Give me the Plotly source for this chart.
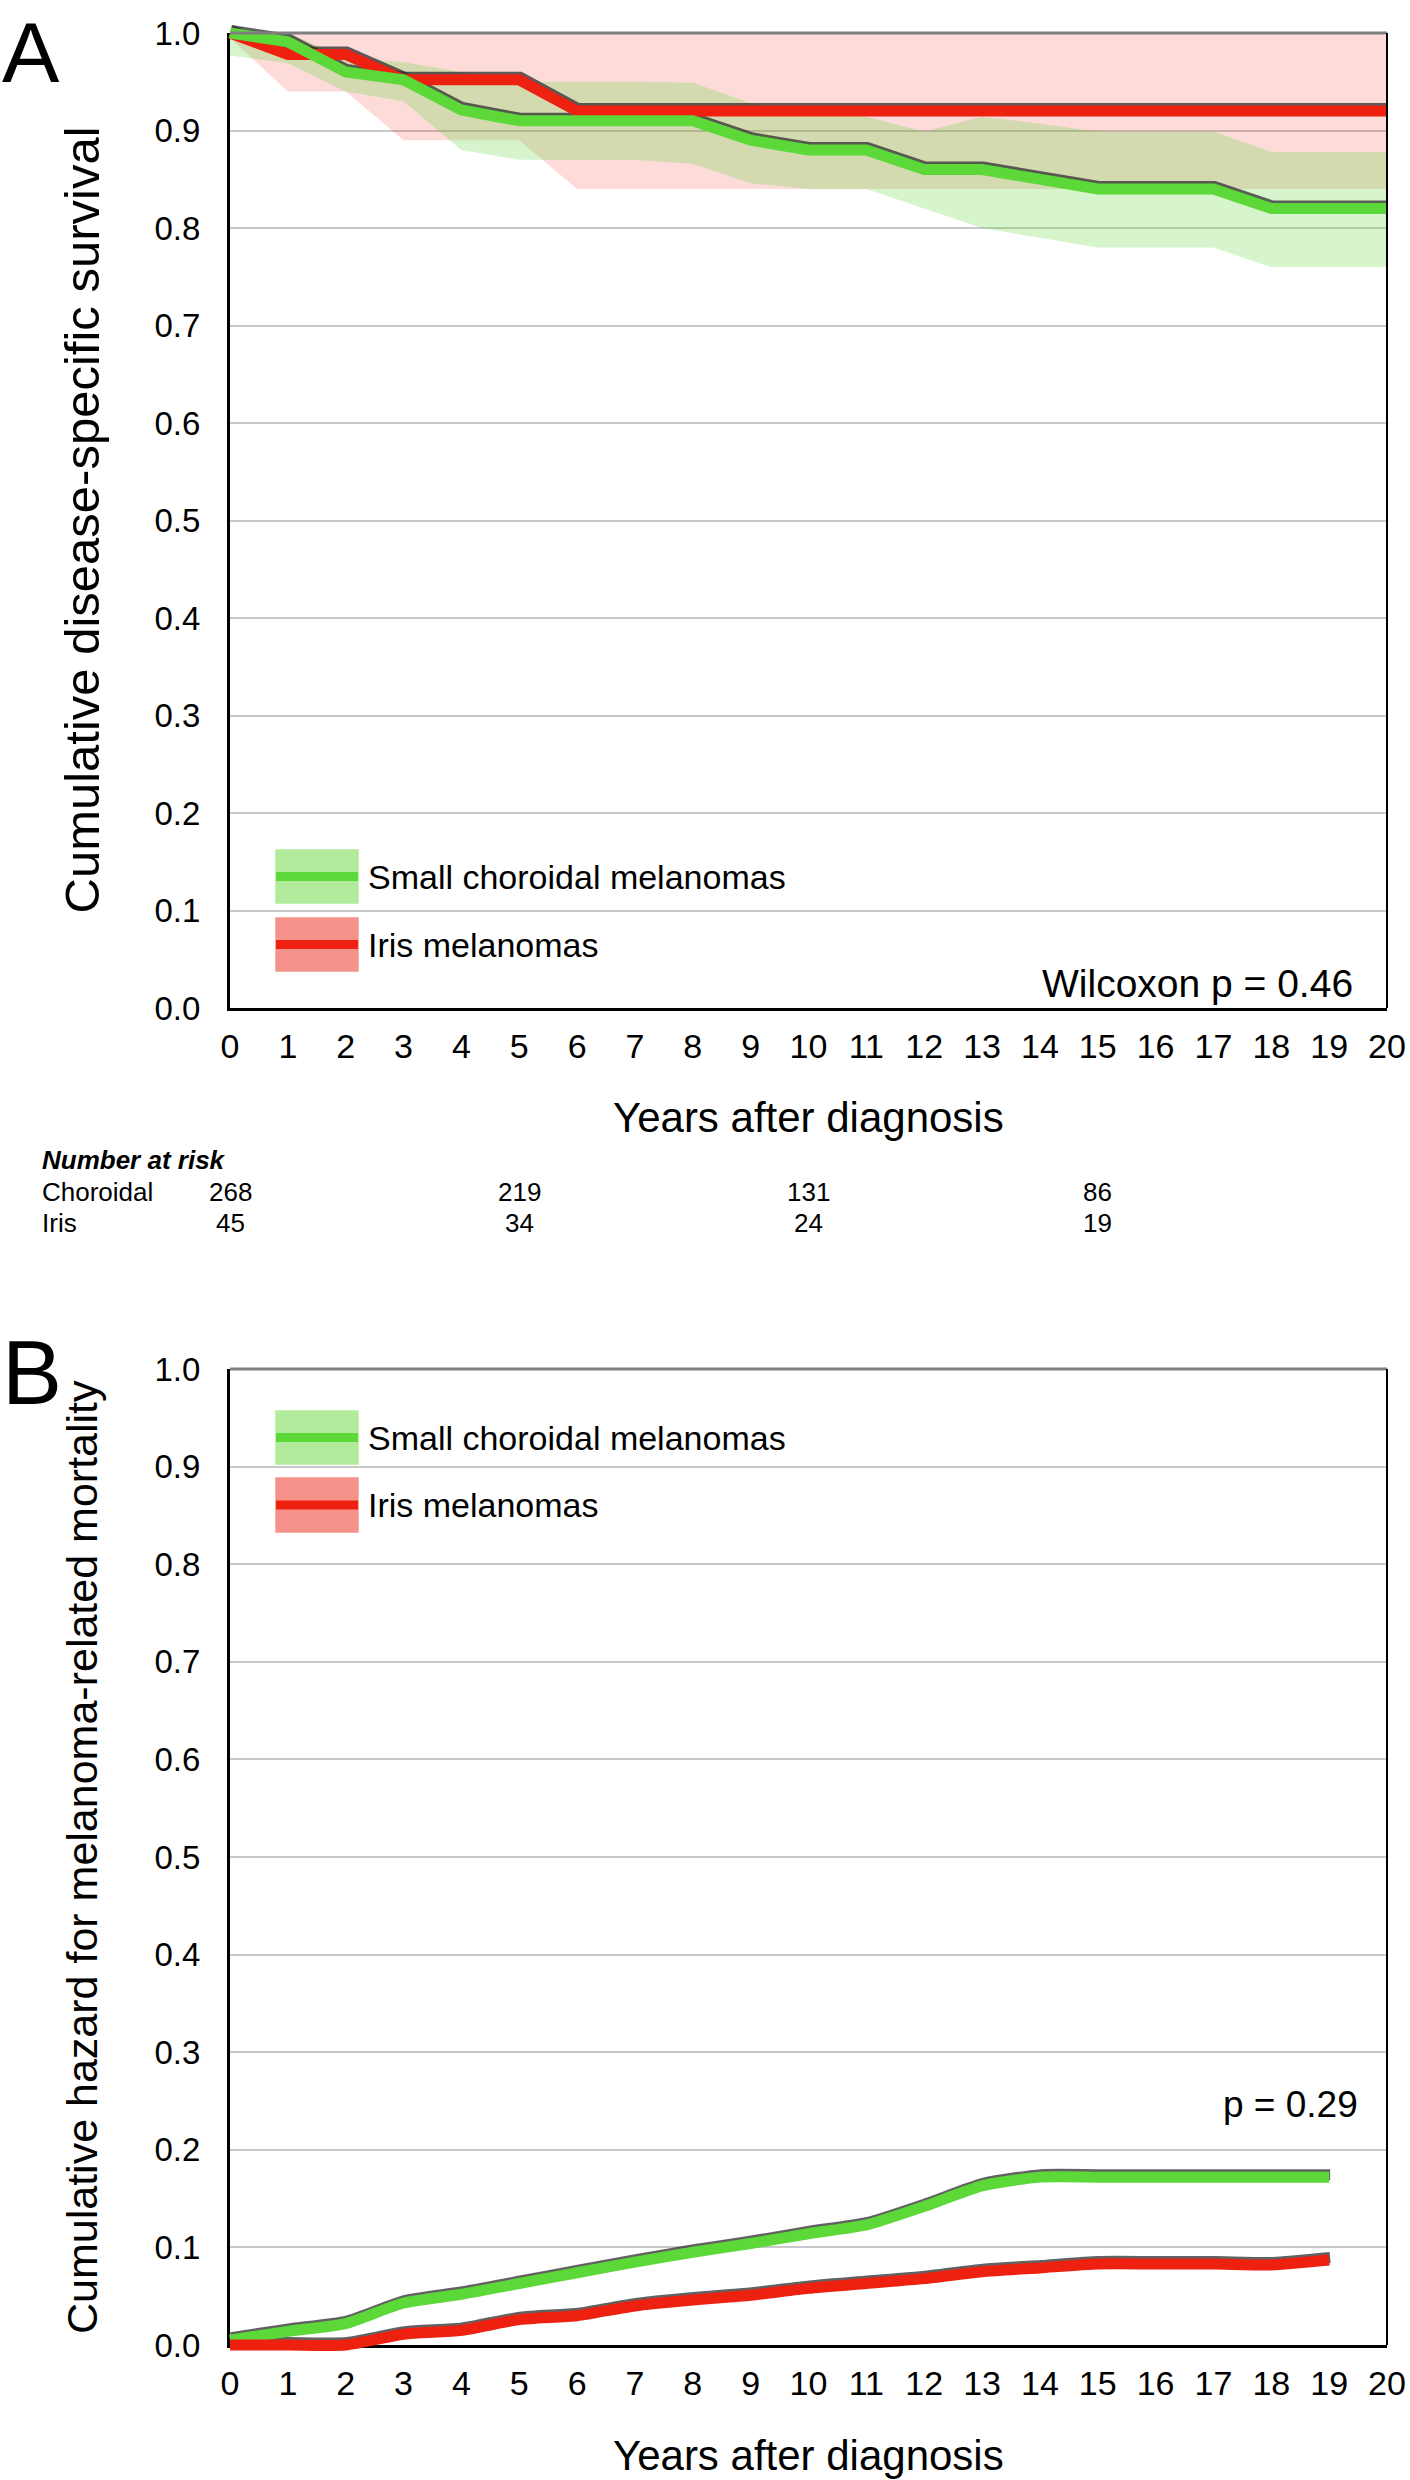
import plotly.graph_objects as go

# ---------------- data ----------------
years_a = [0, 1, 2, 3, 4, 5, 6, 7, 8, 9, 10, 11, 12, 13, 14, 15, 16, 17, 18, 19, 20]
choroidal_surv = [1.000, 0.991, 0.960, 0.952, 0.921, 0.910, 0.910, 0.910, 0.910, 0.890, 0.880,
                  0.880, 0.860, 0.860, 0.850, 0.840, 0.840, 0.840, 0.820, 0.820, 0.820]
choroidal_lo = [0.977, 0.969, 0.940, 0.930, 0.880, 0.870, 0.870, 0.870, 0.866, 0.846, 0.840,
                0.840, 0.820, 0.800, 0.790, 0.780, 0.780, 0.780, 0.760, 0.760, 0.760]
choroidal_hi = [1.000, 1.000, 0.975, 0.970, 0.960, 0.950, 0.950, 0.950, 0.949, 0.928, 0.921,
                0.914, 0.899, 0.914, 0.907, 0.899, 0.899, 0.899, 0.878, 0.878, 0.878]
iris_surv = [1.000, 0.978, 0.978, 0.952, 0.952, 0.952, 0.920, 0.920, 0.920, 0.920, 0.920,
             0.920, 0.920, 0.920, 0.920, 0.920, 0.920, 0.920, 0.920, 0.920, 0.920]
iris_lo = [0.995, 0.940, 0.940, 0.890, 0.890, 0.890, 0.840, 0.840, 0.840, 0.840, 0.840,
           0.840, 0.840, 0.840, 0.840, 0.840, 0.840, 0.840, 0.840, 0.840, 0.840]
iris_hi = [1.000, 1.000, 1.000, 1.000, 1.000, 1.000, 1.000, 1.000, 1.000, 1.000, 1.000,
           1.000, 1.000, 1.000, 1.000, 1.000, 1.000, 1.000, 1.000, 1.000, 1.000]

years_b = [0, 1, 2, 3, 4, 5, 6, 7, 8, 9, 10, 11, 12, 13, 14, 15, 16, 17, 18, 19]
choroidal_haz = [0.005, 0.014, 0.022, 0.043, 0.052, 0.063, 0.074, 0.085, 0.095, 0.104,
                 0.114, 0.123, 0.142, 0.163, 0.172, 0.172, 0.172, 0.172, 0.172, 0.172]
iris_haz = [0.000, 0.000, 0.000, 0.011, 0.015, 0.026, 0.030, 0.040, 0.046, 0.051,
            0.058, 0.063, 0.068, 0.075, 0.079, 0.083, 0.083, 0.083, 0.082, 0.087]

risk_years = [0, 5, 10, 15]
risk_choroidal = [268, 219, 131, 86]
risk_iris = [45, 34, 24, 19]

group_labels = ["Small choroidal melanomas", "Iris melanomas"]
risk_labels = ["Choroidal", "Iris"]
x_ticks = [0, 1, 2, 3, 4, 5, 6, 7, 8, 9, 10, 11, 12, 13, 14, 15, 16, 17, 18, 19, 20]
y_ticks = [0.0, 0.1, 0.2, 0.3, 0.4, 0.5, 0.6, 0.7, 0.8, 0.9, 1.0]
p_text_a = "Wilcoxon p = 0.46"
p_text_b = "p = 0.29"

# ---------------- styling / geometry ----------------
W, H = 1410, 2480
FONT = "Liberation Sans, Arial, Helvetica, sans-serif"
GREEN_LINE = "#5cd838"
RED_LINE = "#ee2111"
GREEN_BAND = "rgba(92,216,52,0.25)"
PINK_BAND = "rgba(238,32,16,0.16)"
GREEN_BOX = "#b2eb9c"
RED_BOX = "#f5938a"
SHADOW = "rgba(45,45,45,0.75)"
GRID = "#c8c8c8"

XL, XR = 230, 1387          # plot area left/right (px)
A_TOP, A_BOT = 33, 1008     # panel A plot area top/bottom (px)
B_TOP, B_BOT = 1369, 2345   # panel B
PAD = 16                    # extra room so thick lines are not clipped
LW = 11


def fx(px):
    return px / W


def fy(py):
    return 1 - py / H


X0, X1 = x_ticks[0], x_ticks[-1]
Y0, Y1 = y_ticks[0], y_ticks[-1]


def base_axes(top, bot):
    xa = dict(domain=[fx(XL), fx(XR)], range=[X0, X1], tickvals=x_ticks,
              showgrid=False, zeroline=False, showline=True, linecolor="black",
              linewidth=3, ticks="", ticklabelstandoff=6, automargin=False,
              tickfont=dict(family=FONT, size=34, color="black"), fixedrange=True)
    ya = dict(domain=[fy(bot), fy(top)], range=[Y0, Y1], tickvals=y_ticks,
              tickformat=".1f", showgrid=True, gridcolor=GRID, gridwidth=1.5,
              zeroline=False, showline=True, linecolor="black", linewidth=3,
              ticks="", ticklabelstandoff=20, automargin=False,
              tickfont=dict(family=FONT, size=33, color="black"), fixedrange=True)
    return xa, ya


def overlay_axes(top, bot, up=0.0, right=0.0):
    ppx = (XR - XL) / (X1 - X0)
    ppy = (bot - top) / (Y1 - Y0)
    xa = dict(domain=[fx(XL - PAD), fx(XR + PAD)],
              range=[X0 - (PAD + right) / ppx, X1 + (PAD - right) / ppx],
              visible=False, automargin=False, fixedrange=True)
    ya = dict(domain=[fy(bot + PAD), fy(top - PAD)],
              range=[Y0 - (PAD + up) / ppy, Y1 + (PAD - up) / ppy],
              visible=False, automargin=False, fixedrange=True)
    return xa, ya


fig = go.Figure()

# ---- panel A confidence bands (base axes x/y) ----
fig.add_trace(go.Scatter(x=years_a + years_a[::-1], y=iris_hi + iris_lo[::-1],
                         fill="toself", fillcolor=PINK_BAND, line=dict(width=0),
                         mode="lines", hoverinfo="skip", showlegend=False,
                         xaxis="x", yaxis="y"))
fig.add_trace(go.Scatter(x=years_a + years_a[::-1], y=choroidal_hi + choroidal_lo[::-1],
                         fill="toself", fillcolor=GREEN_BAND, line=dict(width=0),
                         mode="lines", hoverinfo="skip", showlegend=False,
                         xaxis="x", yaxis="y"))
# panel B base (empty trace to set up axes)
fig.add_trace(go.Scatter(x=[], y=[], xaxis="x2", yaxis="y2", showlegend=False))

# ---- shadows + lines, panel A ----
for yv in (iris_surv, choroidal_surv):
    fig.add_trace(go.Scatter(x=years_a, y=yv, mode="lines",
                             line=dict(color=SHADOW, width=LW),
                             hoverinfo="skip", showlegend=False, xaxis="x3", yaxis="y3"))
fig.add_trace(go.Scatter(x=years_a, y=iris_surv, mode="lines", name=group_labels[1],
                         line=dict(color=RED_LINE, width=LW), showlegend=False,
                         xaxis="x4", yaxis="y4"))
fig.add_trace(go.Scatter(x=years_a, y=choroidal_surv, mode="lines", name=group_labels[0],
                         line=dict(color=GREEN_LINE, width=LW), showlegend=False,
                         xaxis="x4", yaxis="y4"))

# ---- shadows + lines, panel B ----
for yv in (choroidal_haz, iris_haz):
    fig.add_trace(go.Scatter(x=years_b, y=yv, mode="lines",
                             line=dict(color=SHADOW, width=LW, shape="spline", smoothing=0.6),
                             hoverinfo="skip", showlegend=False, xaxis="x5", yaxis="y5"))
fig.add_trace(go.Scatter(x=years_b, y=choroidal_haz, mode="lines", name=group_labels[0],
                         line=dict(color=GREEN_LINE, width=LW, shape="spline", smoothing=0.6),
                         showlegend=False, xaxis="x6", yaxis="y6"))
fig.add_trace(go.Scatter(x=years_b, y=iris_haz, mode="lines", name=group_labels[1],
                         line=dict(color=RED_LINE, width=LW, shape="spline", smoothing=0.6),
                         showlegend=False, xaxis="x6", yaxis="y6"))

xa1, ya1 = base_axes(A_TOP, A_BOT)
xa2, ya2 = base_axes(B_TOP, B_BOT)
xa2["anchor"] = "y2"
ya2["anchor"] = "x2"
xa3, ya3 = overlay_axes(A_TOP, A_BOT, up=2.5, right=1.0)
xa4, ya4 = overlay_axes(A_TOP, A_BOT)
xa5, ya5 = overlay_axes(B_TOP, B_BOT, up=2.5, right=1.0)
xa6, ya6 = overlay_axes(B_TOP, B_BOT)
for i, (xa, ya) in enumerate([(xa3, ya3), (xa4, ya4), (xa5, ya5), (xa6, ya6)], start=3):
    xa["anchor"] = f"y{i}"
    ya["anchor"] = f"x{i}"

shapes = []
annotations = []

# frame: gray top line and black right line for both panels
for xr, yr in (("x domain", "y domain"), ("x2 domain", "y2 domain")):
    shapes.append(dict(type="line", xref=xr, yref=yr, x0=0, x1=1, y0=1, y1=1,
                       line=dict(color="#7f7f7f", width=3), layer="above"))
    shapes.append(dict(type="line", xref=xr, yref=yr, x0=1, x1=1, y0=0, y1=1,
                       line=dict(color="black", width=2), layer="above"))

# legends (drawn as glyph boxes + text)
legend_rows = {
    "A": [(849, 904), (917, 972)],
    "B": [(1410, 1465), (1477, 1533)],
}
for panel, rows in legend_rows.items():
    for (t, b), box_col, line_col, label in zip(rows, (GREEN_BOX, RED_BOX),
                                                (GREEN_LINE, RED_LINE), group_labels):
        shapes.append(dict(type="rect", xref="paper", yref="paper",
                           x0=fx(275), x1=fx(359), y0=fy(b), y1=fy(t),
                           fillcolor=box_col, line=dict(width=1, color="rgba(255,255,255,0.5)"),
                           layer="above"))
        mid = (t + b) / 2
        shapes.append(dict(type="line", xref="paper", yref="paper",
                           x0=fx(276), x1=fx(358), y0=fy(mid), y1=fy(mid),
                           line=dict(color=line_col, width=9), layer="above"))
        annotations.append(dict(text=label, xref="paper", yref="paper",
                                x=fx(366), y=fy(mid), xanchor="left", yanchor="middle",
                                showarrow=False, font=dict(family=FONT, size=34, color="black")))

# panel letters
annotations.append(dict(text="A", xref="paper", yref="paper", x=fx(0), y=fy(52),
                        xanchor="left", yanchor="middle", showarrow=False,
                        font=dict(family=FONT, size=86, color="black")))
annotations.append(dict(text="B", xref="paper", yref="paper", x=fx(0), y=fy(1373),
                        xanchor="left", yanchor="middle", showarrow=False,
                        font=dict(family=FONT, size=90, color="black")))

# axis titles
annotations.append(dict(text="Cumulative disease-specific survival", xref="paper", yref="paper",
                        x=fx(82), y=fy((A_TOP + A_BOT) / 2), textangle=-90,
                        xanchor="center", yanchor="middle", showarrow=False,
                        font=dict(family=FONT, size=49, color="black")))
annotations.append(dict(text="Cumulative hazard for melanoma-related mortality",
                        xref="paper", yref="paper",
                        x=fx(82), y=fy((B_TOP + B_BOT) / 2), textangle=-90,
                        xanchor="center", yanchor="middle", showarrow=False,
                        font=dict(family=FONT, size=43, color="black")))
for yc in (1117, 2455):
    annotations.append(dict(text="Years after diagnosis", xref="paper", yref="paper",
                            x=fx((XL + XR) / 2), y=fy(yc), xanchor="center", yanchor="middle",
                            showarrow=False, font=dict(family=FONT, size=42, color="black")))

# p-values
annotations.append(dict(text=p_text_a, xref="paper", yref="paper", x=fx(1355), y=fy(983),
                        xanchor="right", yanchor="middle", showarrow=False,
                        font=dict(family=FONT, size=39, color="black")))
annotations.append(dict(text=p_text_b, xref="paper", yref="paper", x=fx(1360), y=fy(2104),
                        xanchor="right", yanchor="middle", showarrow=False,
                        font=dict(family=FONT, size=37, color="black")))

# number at risk table
annotations.append(dict(text="<b><i>Number at risk</i></b>", xref="paper", yref="paper",
                        x=fx(40), y=fy(1160), xanchor="left", yanchor="middle",
                        showarrow=False, font=dict(family=FONT, size=26, color="black")))
for row_label, counts, yc in ((risk_labels[0], risk_choroidal, 1192),
                              (risk_labels[1], risk_iris, 1223)):
    annotations.append(dict(text=row_label, xref="paper", yref="paper", x=fx(40), y=fy(yc),
                            xanchor="left", yanchor="middle", showarrow=False,
                            font=dict(family=FONT, size=26, color="black")))
    for yr, n in zip(risk_years, counts):
        annotations.append(dict(text=str(n), xref="x", yref="paper", x=yr, y=fy(yc),
                                xanchor="center", yanchor="middle", showarrow=False,
                                font=dict(family=FONT, size=26, color="black")))

fig.update_layout(
    width=W, height=H, margin=dict(l=0, r=0, t=0, b=0, pad=0, autoexpand=False),
    paper_bgcolor="white", plot_bgcolor="rgba(0,0,0,0)",
    showlegend=False, font=dict(family=FONT, color="black"),
    xaxis=xa1, yaxis=ya1, xaxis2=xa2, yaxis2=ya2,
    xaxis3=xa3, yaxis3=ya3, xaxis4=xa4, yaxis4=ya4,
    xaxis5=xa5, yaxis5=ya5, xaxis6=xa6, yaxis6=ya6,
    shapes=shapes, annotations=annotations,
)

fig.write_html("out.html", config={"displayModeBar": False},
               post_script="document.body.style.margin='0';")
